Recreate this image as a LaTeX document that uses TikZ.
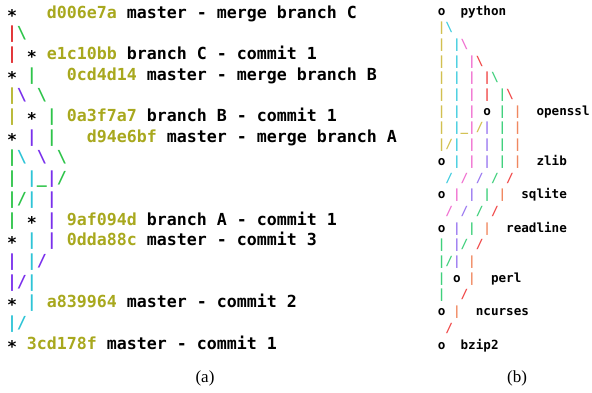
\documentclass[tikz,border=0pt]{standalone}
\usepackage{fontspec}
\usepackage{xcolor}
\newfontfamily\gitfont{DejaVu Sans Mono}
\newfontfamily\capfont{Liberation Serif}
\definecolor{LR}{HTML}{E0262A}
\definecolor{LG}{HTML}{2EC44A}
\definecolor{LO}{HTML}{B4B42A}
\definecolor{LP}{HTML}{7A30EC}
\definecolor{LC}{HTML}{2EC4D6}
\definecolor{HSH}{HTML}{A8A81E}
\definecolor{RY}{HTML}{D2C050}
\definecolor{RC}{HTML}{40CCDE}
\definecolor{RK}{HTML}{F070D0}
\definecolor{RR}{HTML}{F04848}
\definecolor{RG}{HTML}{40D07C}
\definecolor{RO}{HTML}{F08860}
\definecolor{RP}{HTML}{9A78F0}
\newcommand\cc[2]{\textcolor{#1}{#2}}
\newcommand\BSx{\textbackslash}
\newcommand\USx{\_}
\newcommand\st{∗}
\newcommand\hh[1]{\textcolor{HSH}{#1}}
\tikzset{
  gitline/.style={anchor=base west, inner sep=0pt, outer sep=0pt, font=\gitfont\bfseries\fontsize{16.6}{20}\selectfont},
  pkgline/.style={anchor=base west, inner sep=0pt, outer sep=0pt, font=\gitfont\bfseries\fontsize{12.6}{15}\selectfont},
  caption/.style={anchor=base, inner sep=0pt, font=\capfont\fontsize{17}{19}\selectfont}
}
\begin{document}
\begin{tikzpicture}[x=1pt,y=-1pt]
\useasboundingbox (0,0) rectangle (592,392);
% left panel: git log graph
\def\lx{7}
\node[gitline] (l1)  at (\lx,18.0)  {\st~~~\hh{d006e7a} master - merge branch C};
\node[gitline] (l2)  at (\lx,38.7)  {\cc{LR}{|}\cc{LG}{\BSx}};
\node[gitline] (l3)  at (\lx,59.4)  {\cc{LR}{|}~\st~\hh{e1c10bb} branch C - commit 1};
\node[gitline] (l4)  at (\lx,80.1)  {\st~\cc{LG}{|}~~~\hh{0cd4d14} master - merge branch B};
\node[gitline] (l5)  at (\lx,100.8) {\cc{LO}{|}\cc{LP}{\BSx}~\cc{LG}{\BSx}};
\node[gitline] (l6)  at (\lx,121.5) {\cc{LO}{|}~\st~\cc{LG}{|}~\hh{0a3f7a7} branch B - commit 1};
\node[gitline] (l7)  at (\lx,142.2) {\st~\cc{LP}{|}~\cc{LG}{|}~~~\hh{d94e6bf} master - merge branch A};
\node[gitline] (l8)  at (\lx,162.9) {\cc{LG}{|}\cc{LC}{\BSx}~\cc{LP}{\BSx}~\cc{LG}{\BSx}};
\node[gitline] (l9)  at (\lx,183.6) {\cc{LG}{|}~\cc{LC}{|}\cc{LG}{\USx}\cc{LP}{|}\cc{LG}{/}};
\node[gitline] (l10) at (\lx,204.3) {\cc{LG}{|}\cc{LG}{/}\cc{LC}{|}~\cc{LP}{|}};
\node[gitline] (l11) at (\lx,225.0) {\cc{LG}{|}~\st~\cc{LP}{|}~\hh{9af094d} branch A - commit 1};
\node[gitline] (l12) at (\lx,245.7) {\st~\cc{LC}{|}~\cc{LP}{|}~\hh{0dda88c} master - commit 3};
\node[gitline] (l13) at (\lx,266.4) {\cc{LP}{|}~\cc{LC}{|}\cc{LP}{/}};
\node[gitline] (l14) at (\lx,287.1) {\cc{LP}{|}\cc{LP}{/}\cc{LC}{|}};
\node[gitline] (l15) at (\lx,307.8) {\st~\cc{LC}{|}~\hh{a839964} master - commit 2};
\node[gitline] (l16) at (\lx,328.5) {\cc{LC}{|}\cc{LC}{/}};
\node[gitline] (l17) at (\lx,349.2) {\st~\hh{3cd178f} master - commit 1};
% right panel: package graph
\def\rx{437.9}
\node[pkgline] (r0)  at (\rx,15.0)  {o~~python};
\node[pkgline] (r1)  at (\rx,31.7)  {\cc{RY}{|}\cc{RC}{\BSx}};
\node[pkgline] (r2)  at (\rx,48.4)  {\cc{RY}{|}~\cc{RC}{|}\cc{RK}{\BSx}};
\node[pkgline] (r3)  at (\rx,65.1)  {\cc{RY}{|}~\cc{RC}{|}~\cc{RK}{|}\cc{RR}{\BSx}};
\node[pkgline] (r4)  at (\rx,81.8)  {\cc{RY}{|}~\cc{RC}{|}~\cc{RK}{|}~\cc{RR}{|}\cc{RG}{\BSx}};
\node[pkgline] (r5)  at (\rx,98.5)  {\cc{RY}{|}~\cc{RC}{|}~\cc{RK}{|}~\cc{RR}{|}~\cc{RG}{|}\cc{RR}{\BSx}};
\node[pkgline] (r6)  at (\rx,115.2) {\cc{RY}{|}~\cc{RC}{|}~\cc{RK}{|}~o~\cc{RG}{|}~\cc{RO}{|}~~openssl};
\node[pkgline] (r7)  at (\rx,131.9) {\cc{RY}{|}~\cc{RC}{|}\cc{RY}{\USx}\cc{RK}{|}\cc{RY}{/}\cc{RP}{|}~\cc{RG}{|}~\cc{RO}{|}};
\node[pkgline] (r8)  at (\rx,148.6) {\cc{RY}{|}\cc{RY}{/}\cc{RC}{|}~\cc{RK}{|}~\cc{RP}{|}~\cc{RG}{|}~\cc{RO}{|}};
\node[pkgline] (r9)  at (\rx,165.3) {o~\cc{RC}{|}~\cc{RK}{|}~\cc{RP}{|}~\cc{RG}{|}~\cc{RO}{|}~~zlib};
\node[pkgline] (r10) at (\rx,182.0) {~\cc{RC}{/}~\cc{RK}{/}~\cc{RP}{/}~\cc{RG}{/}~\cc{RR}{/}};
\node[pkgline] (r11) at (\rx,198.7) {o~\cc{RK}{|}~\cc{RP}{|}~\cc{RG}{|}~\cc{RO}{|}~~sqlite};
\node[pkgline] (r12) at (\rx,215.4) {~\cc{RK}{/}~\cc{RP}{/}~\cc{RG}{/}~\cc{RR}{/}};
\node[pkgline] (r13) at (\rx,232.1) {o~\cc{RP}{|}~\cc{RG}{|}~\cc{RO}{|}~~readline};
\node[pkgline] (r14) at (\rx,248.8) {\cc{RG}{|}~\cc{RP}{|}\cc{RG}{/}~\cc{RR}{/}};
\node[pkgline] (r15) at (\rx,265.5) {\cc{RG}{|}\cc{RG}{/}\cc{RP}{|}~\cc{RO}{|}};
\node[pkgline] (r16) at (\rx,282.2) {\cc{RG}{|}~o~\cc{RO}{|}~~perl};
\node[pkgline] (r17) at (\rx,298.9) {\cc{RG}{|}~~\cc{RR}{/}};
\node[pkgline] (r18) at (\rx,315.6) {o~\cc{RO}{|}~~ncurses};
\node[pkgline] (r19) at (\rx,332.3) {~\cc{RR}{/}};
\node[pkgline] (r20) at (\rx,349.0) {o~~bzip2};
% captions
\node[caption] (capa) at (205,382) {(a)};
\node[caption] (capb) at (517,382) {(b)};
\end{tikzpicture}
\end{document}
